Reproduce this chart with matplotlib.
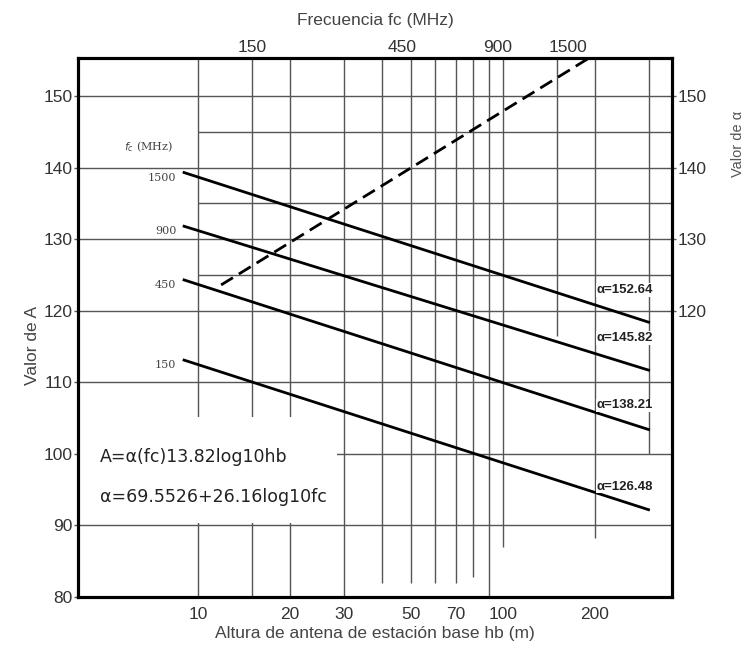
import numpy as np
import matplotlib.pyplot as plt

plt.rcParams['font.family'] = ['Liberation Sans', 'DejaVu Sans']

# Rectas A vs hb, una por frecuencia
fc_curvas = ['1500', '900', '450', '150']
alpha_vals = ['152.64', '145.82', '138.21', '126.48']
hb_ext = [9, 300]
A_inicio = [139.3, 131.8, 124.3, 113.1]
A_fin = [118.4, 111.7, 103.4, 92.2]

# Recta discontinua alfa vs fc (eje superior / derecho)
fc_disc = [120, 1750]
alfa_disc = [123.6, 155.3]

# Marcas de los ejes
hb_ticks = [10, 20, 30, 50, 70, 100, 200]
fc_ticks = [150, 450, 900, 1500]
A_ticks = [80, 90, 100, 110, 120, 130, 140, 150]
alfa_ticks = [120, 130, 140, 150]

# Rejilla del nomograma
rej_hb = [10, 15, 20, 30, 40, 50, 60, 70, 80, 90, 100, 150, 200, 300]
rej_hb_fin = [80, 80, 80, 80, 82, 82, 82, 82, 82.8, 80, 87, 116.5, 88.3, 100]
rej_A = [150, 140, 130, 120, 110, 100, 90]
rej_A_menor = [145, 135, 125]

hb_lim = (4.04, 358)
fc_lim = (42.3, 3202)
A_lim = (80, 155.3)

fig = plt.figure(figsize=(7.54, 6.55), dpi=100)
ax = fig.add_axes([0.1034, 0.0885, 0.7878, 0.8229])
ax.set_xscale('log')
ax.set_xlim(*hb_lim)
ax.set_ylim(*A_lim)

gris = '#555555'
ax.vlines(rej_hb, rej_hb_fin, A_lim[1], colors=gris, lw=1.0, zorder=1)
for a in rej_A:
    ax.axhline(a, color=gris, lw=1.0, zorder=1)
ax.hlines(rej_A_menor, 10, hb_lim[1], colors=gris, lw=1.0, zorder=1)

# caja blanca de las formulas
ax.fill_between([hb_lim[0], 28.5], 90.4, 105.2, color='white', zorder=2, lw=0)

for i in range(len(fc_curvas)):
    ax.plot(hb_ext, [A_inicio[i], A_fin[i]], color='black', lw=2.0, zorder=4)
    ax.text(8.5, A_inicio[i] - 0.7, fc_curvas[i], ha='right', va='center',
            fontsize=8, color='#444444', family='DejaVu Serif', zorder=5)

alfa_y = [122.9, 116.2, 106.8, 95.4]
for i in range(len(alpha_vals)):
    ax.text(203, alfa_y[i], 'α=' + alpha_vals[i], ha='left', va='center',
            fontsize=9.5, fontweight='bold', color='#222222', zorder=5,
            bbox=dict(facecolor='white', edgecolor='none', pad=0.5))

ax.text(8.3, 142.9, r'$f_c$ (MHz)', ha='right', va='center', fontsize=8,
        color='#444444', family='DejaVu Serif', zorder=5)

ax.text(4.77, 99.6, 'A=α(fc)13.82log10hb', ha='left', va='center',
        fontsize=12.5, color='#222222', family='DejaVu Sans', zorder=5)
ax.text(4.77, 94.0, 'α=69.5526+26.16log10fc', ha='left', va='center',
        fontsize=12.5, color='#222222', family='DejaVu Sans', zorder=5)

ax.set_xticks(hb_ticks)
ax.set_xticklabels([str(v) for v in hb_ticks])
ax.xaxis.set_minor_locator(plt.NullLocator())
ax.set_yticks(A_ticks)
ax.tick_params(axis='x', length=0, pad=7, labelsize=12.5, labelcolor='#333333')
ax.tick_params(axis='y', length=3, width=1, pad=1, labelsize=12.5,
               labelcolor='#333333', color=gris)
ax.set_xlabel('Altura de antena de estación base hb (m)', fontsize=12.5,
              color='#444444', labelpad=3)
ax.set_ylabel('Valor de A', fontsize=12.5, color='#444444')
ax.yaxis.set_label_coords(-0.064, 0.467)

# eje superior de frecuencia
axt = ax.twiny()
axt.set_xscale('log')
axt.set_xlim(*fc_lim)
axt.plot(fc_disc, alfa_disc, color='black', lw=2.0, dashes=(5, 2.5), zorder=4)
axt.set_xticks(fc_ticks)
axt.set_xticklabels([str(v) for v in fc_ticks])
axt.xaxis.set_minor_locator(plt.NullLocator())
axt.tick_params(axis='x', length=0, pad=2, labelsize=12.5, labelcolor='#333333')
axt.set_xlabel('Frecuencia fc (MHz)', fontsize=12.5, color='#444444', labelpad=11)
axt.set_ylim(*A_lim)

# eje derecho de alfa
axr = ax.twinx()
axr.set_ylim(*A_lim)
axr.set_yticks(alfa_ticks)
axr.tick_params(axis='y', length=3, width=1, pad=1, labelsize=12.5,
                labelcolor='#333333', color=gris)
axr.set_ylabel('Valor de α', fontsize=10.5, color='#555555')
axr.yaxis.set_label_coords(1.1, 0.84)

for a in (ax, axt, axr):
    for s in a.spines.values():
        s.set_linewidth(2.2)
        s.set_color('black')

fig.savefig('out.png', dpi=100)
